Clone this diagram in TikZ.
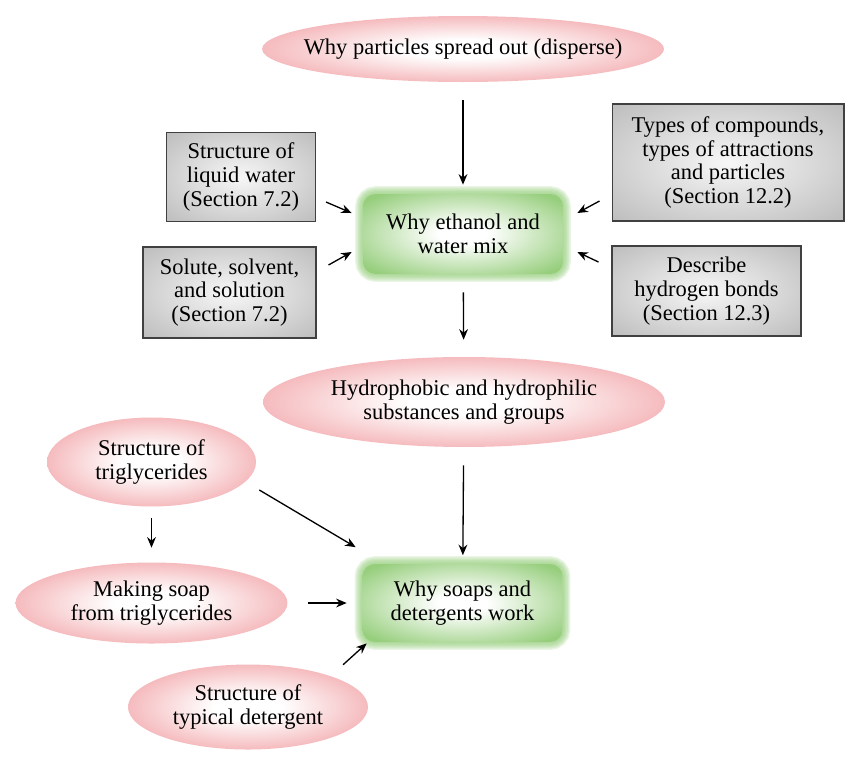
\documentclass[tikz,border=0pt]{standalone}
\usepackage{fontspec}
\setmainfont{Liberation Serif}
\usetikzlibrary{arrows.meta,shapes.geometric,fadings}

\definecolor{pinkrim}{RGB}{238,138,143}
\definecolor{greenrim}{RGB}{150,206,124}
\definecolor{grayrim}{RGB}{165,165,165}
\definecolor{graycore}{RGB}{247,247,247}

\pgfdeclareradialshading{pinkglow}{\pgfpointorigin}{color(0bp)=(white); color(7bp)=(white); color(38bp)=(pinkrim); color(50bp)=(pinkrim)}
\pgfdeclareradialshading{greenglow}{\pgfpointorigin}{color(0bp)=(white); color(6bp)=(white); color(32bp)=(greenrim); color(50bp)=(greenrim)}
\pgfdeclareradialshading{grayglow}{\pgfpointorigin}{color(0bp)=(graycore); color(50bp)=(grayrim)}
\pgfdeclareradialshading{blobedge}{\pgfpointorigin}{color(0bp)=(white); color(39bp)=(white); color(50bp)=(black)}
\pgfdeclarefading{blobfade}{\pgfuseshading{blobedge}}

\tikzset{
    txt/.style={font=\fontsize{12.8}{13.6}\selectfont, align=center},
    pinkblob/.style={txt, ellipse, inner xsep=-0.5cm, inner ysep=0pt, shading=pinkglow, path fading=blobfade},
    greenbox/.style={txt, rectangle, rounded corners=7pt, inner sep=0pt, shading=greenglow,
        preaction={draw=greenrim, line width=9pt, draw opacity=.2},
        preaction={draw=greenrim, line width=7.5pt, draw opacity=.2},
        preaction={draw=greenrim, line width=6pt, draw opacity=.2},
        preaction={draw=greenrim, line width=4.5pt, draw opacity=.2},
        preaction={draw=greenrim, line width=3pt, draw opacity=.2},
        preaction={draw=greenrim, line width=1.5pt, draw opacity=.2}},
    graybox/.style={txt, rectangle, inner sep=0pt, draw=black!75, line width=0.6pt, shading=grayglow},
    arr/.style={-{Stealth[length=6pt,width=5pt]}, line width=0.75pt}
}

\begin{document}
\begin{tikzpicture}[x=0.02cm, y=-0.02cm]
    \useasboundingbox (0,0) rectangle (845,769);

    % upper half
    \node[pinkblob, minimum width=8.04cm, minimum height=1.32cm] (disperse) at (463,49) {Why particles spread out (disperse)};
    \node[greenbox, minimum width=4cm, minimum height=1.6cm] (ethanol) at (463,234) {Why ethanol and\\water mix};
    \node[graybox, minimum width=2.98cm, minimum height=1.78cm] (water) at (241,177) {Structure of\\liquid water\\(Section 7.2)};
    \node[graybox, minimum width=3.46cm, minimum height=1.82cm] (solute) at (229.5,292.5) {Solute, solvent,\\and solution\\(Section 7.2)};
    \node[graybox, minimum width=4.64cm, minimum height=2.34cm] (compounds) at (728,162.5) {Types of compounds,\\types of attractions\\and particles\\(Section 12.2)};
    \node[graybox, minimum width=3.78cm, minimum height=1.8cm] (hbonds) at (706.5,291) {Describe\\hydrogen bonds\\(Section 12.3)};

    % lower half
    \node[pinkblob, minimum width=8.04cm, minimum height=1.8cm] (hydro) at (464,402) {Hydrophobic and hydrophilic\\substances and groups};
    \node[pinkblob, minimum width=4.18cm, minimum height=1.78cm] (triglyc) at (151.5,462) {Structure of\\triglycerides};
    \node[pinkblob, minimum width=5.44cm, minimum height=1.62cm] (soapmaking) at (151.5,603) {Making soap\\from triglycerides};
    \node[pinkblob, minimum width=4.8cm, minimum height=1.7cm] (detergent) at (248,707) {Structure of\\typical detergent};
    \node[greenbox, minimum width=4cm, minimum height=1.56cm] (soaps) at (462.5,603) {Why soaps and\\detergents work};

    \draw[arr, shorten <=0.36cm, shorten >=0.18cm] (disperse) -- (ethanol);
    \draw[arr] ([shift={(10,25)}]water.east) -- ([shift={(-11,-21)}]ethanol.west);
    \draw[arr] ([shift={(12,-27.5)}]solute.east) -- ([shift={(-11,18)}]ethanol.west);
    \draw[arr] ([shift={(-12,38.5)}]compounds.west) -- ([shift={(14,-21)}]ethanol.east);
    \draw[arr] ([shift={(-13,-29)}]hbonds.west) -- ([shift={(14,18)}]ethanol.east);
    \draw[arr, shorten <=0.36cm, shorten >=0.34cm] (ethanol) -- (hydro);

    \draw[arr, shorten <=0.36cm, shorten >=0.17cm] (hydro) -- (soaps);
    \draw[arr] ([shift={(3,28)}]triglyc.east) -- ([shift={(-6.5,-16.5)}]soaps.north west);
    \draw[arr, shorten <=0.23cm, shorten >=0.29cm] (triglyc) -- (soapmaking);
    \draw[arr, shorten <=0.40cm, shorten >=0.31cm] (soapmaking) -- (soaps);
    \draw[arr] ([shift={(10,-12)}]detergent.north east) -- ([shift={(4.5,1)}]soaps.south west);
\end{tikzpicture}
\end{document}
